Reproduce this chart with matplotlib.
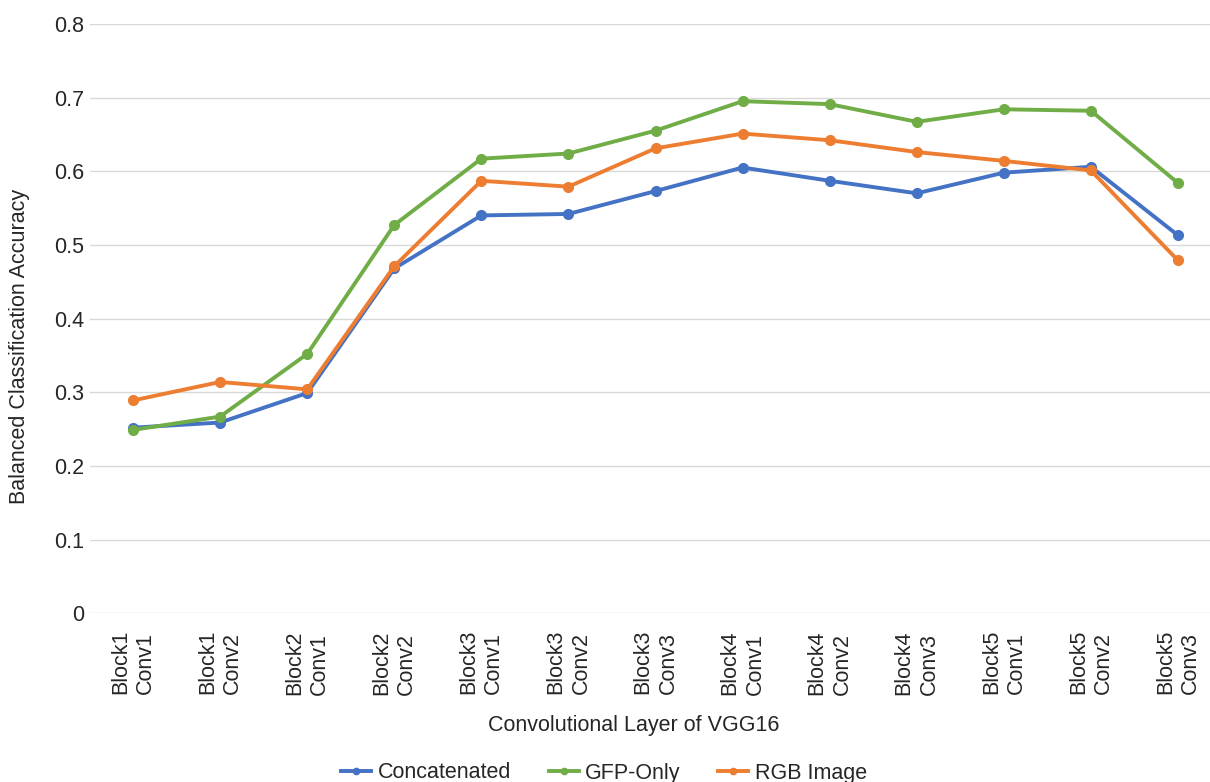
import matplotlib
matplotlib.use("Agg")
import matplotlib.pyplot as plt
from matplotlib.lines import Line2D

plt.rcParams['font.family'] = ['Liberation Sans', 'DejaVu Sans']

layers = ["Block1\nConv1", "Block1\nConv2", "Block2\nConv1", "Block2\nConv2",
          "Block3\nConv1", "Block3\nConv2", "Block3\nConv3", "Block4\nConv1",
          "Block4\nConv2", "Block4\nConv3", "Block5\nConv1", "Block5\nConv2",
          "Block5\nConv3"]

concatenated = [0.252, 0.259, 0.299, 0.468, 0.540, 0.542, 0.573, 0.605,
                0.587, 0.570, 0.598, 0.606, 0.513]
gfp_only = [0.249, 0.267, 0.352, 0.527, 0.617, 0.624, 0.655, 0.695,
            0.691, 0.667, 0.684, 0.682, 0.584]
rgb_image = [0.289, 0.314, 0.304, 0.471, 0.587, 0.579, 0.631, 0.651,
             0.642, 0.626, 0.614, 0.601, 0.479]

series = [("Concatenated", concatenated, "#4472C4"),
          ("GFP-Only", gfp_only, "#70AD47"),
          ("RGB Image", rgb_image, "#ED7D31")]

FS = 15.5
TXT = '#262626'

W, H = 1210, 782
fig = plt.figure(figsize=(W / 100, H / 100), dpi=100)
left, right, top, bottom = 89.5, 1221.5, 23.8, 613.4
ax = fig.add_axes([left / W, 1 - bottom / H, (right - left) / W, (bottom - top) / H])

x = list(range(len(layers)))
for name, vals, col in series:
    ax.plot(x, vals, color=col, lw=2.8, marker='o', ms=7, label=name,
            solid_joinstyle='round', zorder=3)

ax.set_xlim(-0.5, len(layers) - 0.5)
ax.set_ylim(0, 0.8)
ax.set_yticks([0, 0.1, 0.2, 0.3, 0.4, 0.5, 0.6, 0.7, 0.8])
ax.set_yticklabels(["0", "0.1", "0.2", "0.3", "0.4", "0.5", "0.6", "0.7", "0.8"])
ax.grid(axis='y', color='#D9D9D9', lw=1.0, zorder=0)
ax.set_axisbelow(True)
for s in ax.spines.values():
    s.set_visible(False)
ax.tick_params(axis='both', length=0, labelsize=FS, colors=TXT)
ax.tick_params(axis='y', pad=4)
ax.tick_params(axis='x', pad=12)
ax.set_xticks(x)
ax.set_xticklabels(layers, rotation=90, va='top', ha='center',
                   multialignment='left', linespacing=1.25)

fig.text(20 / W, 1 - 346 / H, "Balanced Classification Accuracy", fontsize=FS,
         color=TXT, rotation=90, ha='center', va='center')
fig.text(634 / W, 1 - 726 / H, "Convolutional Layer of VGG16",
         fontsize=FS, color=TXT, ha='center', va='center')

handles = [Line2D([0], [0], color=col, lw=2.8, marker='o', ms=4.5)
           for _, _, col in series]
fig.legend(handles, [n for n, _, _ in series], loc='center',
           bbox_to_anchor=(604 / W, 1 - 773 / H), ncol=3, frameon=False,
           fontsize=FS, handlelength=1.4, handletextpad=0.3,
           columnspacing=1.75, labelcolor=TXT)

fig.savefig("out.png", dpi=100, facecolor='white')
